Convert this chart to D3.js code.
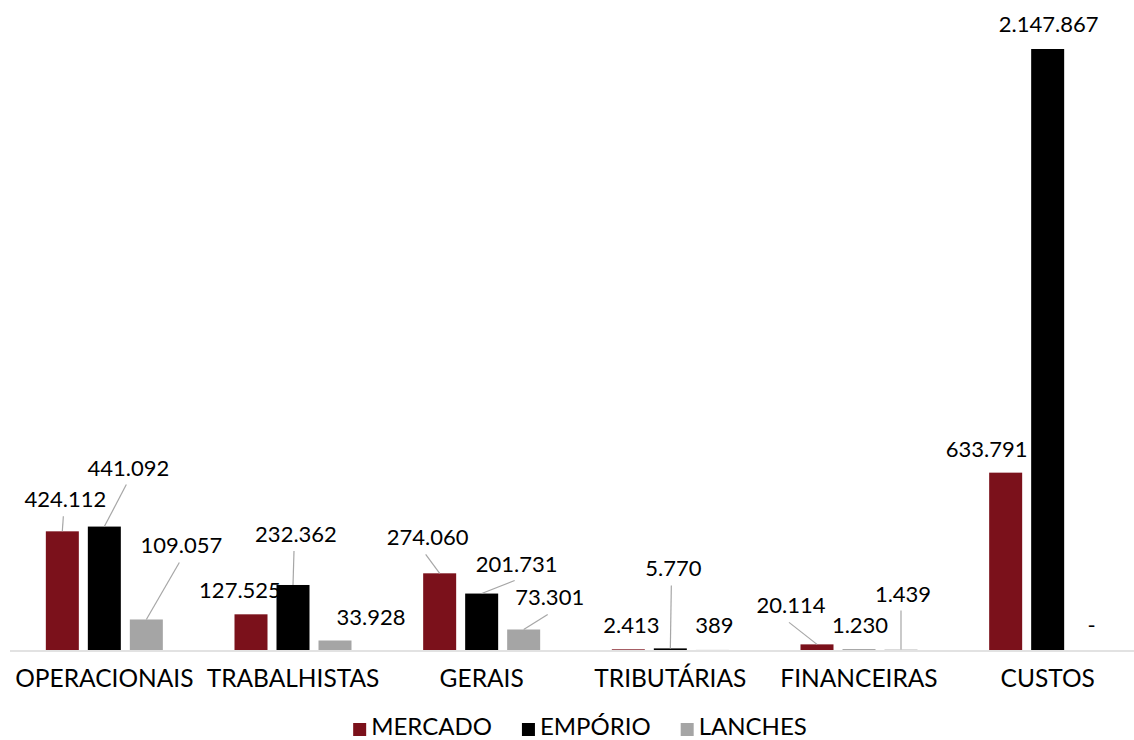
<!DOCTYPE html>
<html>
<head>
<meta charset="utf-8">
<script src="https://cdn.jsdelivr.net/npm/d3@7"></script>
<style>
  html, body { margin: 0; padding: 0; background: #fff; }
  svg text { font-family: Lato, 'Open Sans', sans-serif; fill: #000; }
</style>
</head>
<body>
<svg id="chart"></svg>
<script>
const categories = ['OPERACIONAIS', 'TRABALHISTAS', 'GERAIS', 'TRIBUTÁRIAS', 'FINANCEIRAS', 'CUSTOS'];
const seriesNames = ['MERCADO', 'EMPÓRIO', 'LANCHES'];
const mercado = [424112, 127525, 274060, 2413, 20114, 633791];
const emporio = [441092, 232362, 201731, 5770, 1230, 2147867];
const lanches = [109057, 33928, 73301, 389, 1439, 0];

// label nudges (dx, dy from bar top centre), like excel's dragged labels
const labelOffsets = [
  [[3, -24, true], [24, -51, true], [35, -66, true]],
  [[-11, -16, false], [3, -43, true], [36, -16, false]],
  [[-12, -28, true], [35, -22, true], [26, -24, true]],
  [[3, -16, false], [3, -72, true], [2, -17, false]],
  [[-26, -31, true], [1, -17, false], [2, -48, true]],
  [[-19, -16, false], [1, -17, false], [2, -17, false]]
];

const colors = ['#7b111b', '#000000', '#a5a5a5'];
const width = 1134;
const height = 740;
const baseY = 650;

const values = [mercado, emporio, lanches];
const fmt = v => v === 0 ? '-' : d3.format(',')(v).replace(/,/g, '.');

const svg = d3.select('#chart')
  .attr('width', width)
  .attr('height', height)
  .attr('viewBox', [0, 0, width, height]);

const x0 = d3.scaleBand().domain(categories).range([10, 1142]);
const bw = x0.bandwidth();
const x1 = d3.scaleBand().domain(seriesNames)
  .range([bw / 2 - 63, bw / 2 + 63])
  .paddingInner(9 / 42)
  .paddingOuter(9 / 84);
const y = d3.scaleLinear().domain([0, d3.max(emporio)]).range([baseY, 49]);

const rows = [];
categories.forEach((c, i) => {
  seriesNames.forEach((s, j) => {
    rows.push({ cat: c, ser: s, si: j, v: values[j][i], off: labelOffsets[i][j] });
  });
});

// bars
svg.append('g')
  .selectAll('rect')
  .data(rows)
  .join('rect')
  .attr('x', d => x0(d.cat) + x1(d.ser))
  .attr('y', d => y(d.v))
  .attr('width', x1.bandwidth())
  .attr('height', d => baseY - y(d.v))
  .attr('fill', d => colors[d.si]);

// axis line
svg.append('line')
  .attr('x1', 10).attr('x2', width)
  .attr('y1', baseY + 1).attr('y2', baseY + 1)
  .attr('stroke', '#d9d9d9')
  .attr('stroke-width', 1.5);

// category labels
svg.append('g')
  .selectAll('text')
  .data(categories)
  .join('text')
  .attr('x', d => x0(d) + bw / 2)
  .attr('y', 687)
  .attr('text-anchor', 'middle')
  .style('font-size', '24.5px')
  .text(d => d);

// data labels + leader lines
const cx = d => x0(d.cat) + x1(d.ser) + x1.bandwidth() / 2;
const lbl = svg.append('g');
lbl.selectAll('line')
  .data(rows.filter(d => d.off[2]))
  .join('line')
  .attr('x1', d => cx(d) + d.off[0] - 2)
  .attr('y1', d => y(d.v) + d.off[1] + 9)
  .attr('x2', d => cx(d))
  .attr('y2', d => y(d.v))
  .attr('stroke', '#a6a6a6')
  .attr('stroke-width', 1.2);
lbl.selectAll('text')
  .data(rows)
  .join('text')
  .attr('x', d => cx(d) + d.off[0])
  .attr('y', d => y(d.v) + d.off[1])
  .attr('text-anchor', 'middle')
  .style('font-size', '22px')
  .text(d => fmt(d.v));

// legend
const legend = svg.append('g');
const items = legend.selectAll('g')
  .data(seriesNames)
  .join('g');
items.append('rect')
  .attr('width', 13).attr('height', 13)
  .attr('y', 723)
  .attr('fill', (d, i) => colors[i]);
items.append('text')
  .attr('x', 18)
  .attr('y', 735)
  .style('font-size', '24px')
  .text(d => d);
let lx = 0;
const pos = [];
items.each(function() {
  pos.push(lx);
  lx += 18 + this.querySelector('text').getComputedTextLength() + 30;
});
lx -= 30;
const startX = width / 2 + 13 - lx / 2;
items.attr('transform', (d, i) => `translate(${startX + pos[i]},0)`);
</script>
</body>
</html>
